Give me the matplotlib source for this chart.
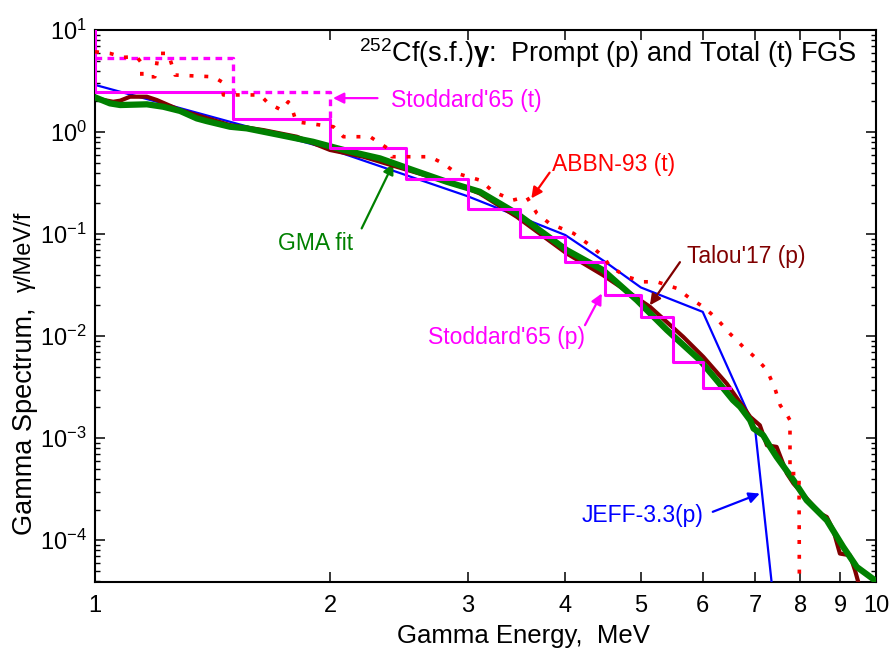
import numpy as np
import matplotlib
matplotlib.use('Agg')
import matplotlib.pyplot as plt
from matplotlib.ticker import FixedLocator, FixedFormatter, LogLocator, NullFormatter, NullLocator

plt.rcParams['font.family'] = ['Liberation Sans', 'DejaVu Sans']
plt.rcParams['mathtext.fontset'] = 'custom'
plt.rcParams['mathtext.rm'] = 'Liberation Sans'
plt.rcParams['mathtext.it'] = 'Liberation Sans:italic'
plt.rcParams['mathtext.bf'] = 'Liberation Sans:bold'
plt.rcParams['axes.unicode_minus'] = False

# ---------------- data ----------------
# GMA fit (prompt)
gma_e = [1.00, 1.045, 1.077, 1.165, 1.223, 1.285, 1.35, 1.39, 1.489, 1.564, 1.725, 1.902,
         2.10, 2.317, 2.554, 2.82, 3.11, 3.467, 4.018, 4.472, 4.94, 5.40, 5.95, 6.25, 6.56,
         6.70, 6.90, 6.97, 7.17, 7.32, 7.46, 7.84, 8.15, 8.65, 9.08, 9.45, 9.97]
gma_y = [2.19, 1.91, 1.84, 1.87, 1.77, 1.61, 1.36, 1.28, 1.127, 1.087, 0.935, 0.803,
         0.656, 0.552, 0.424, 0.326, 0.260, 0.1595, 0.0697, 0.0444, 0.02255, 0.01146, 0.00582,
         0.00371, 0.00236, 0.00203, 0.0015, 0.001245, 0.00107, 0.000822, 0.000656, 0.000388,
         0.000247, 0.000157, 0.0000859, 0.0000547, 0.0000405]

# Talou'17 (prompt)
talou_e = [1.00, 1.055, 1.077, 1.109, 1.165, 1.20, 1.285, 1.417, 1.489, 1.642, 1.813, 2.0,
           2.206, 2.434, 2.685, 2.962, 3.11, 3.467, 4.018, 4.472, 5.135, 5.665, 6.01, 6.44,
           6.90, 7.10, 7.25, 7.46, 7.69, 7.84, 8.48, 8.65, 8.82, 8.99, 9.26, 9.40, 9.49, 9.55]
talou_y = [2.14, 1.98, 2.03, 2.22, 2.22, 2.06, 1.64, 1.31, 1.17, 1.046, 0.90, 0.667,
           0.573, 0.457, 0.365, 0.291, 0.25, 0.148, 0.0646, 0.0396, 0.0194, 0.00984, 0.00627,
           0.00343, 0.00162, 0.00134, 0.000853, 0.000822, 0.000451, 0.00036, 0.000183,
           0.000169, 0.000125, 0.0000741, 0.0000713, 0.0000508, 0.000039, 0.00002]

# JEFF-3.3 (prompt)
jeff_e = [1.0, 2.0, 3.0, 4.0, 4.5, 5.0, 6.0, 7.0, 7.5]
jeff_y = [2.9, 0.68, 0.235, 0.098, 0.0535, 0.030, 0.0173, 0.00125, 9.3e-6]

# ABBN-93 (total)
abbn_e = [1.00, 1.045, 1.087, 1.131, 1.148, 1.148, 1.193, 1.205, 1.241, 1.266, 1.417, 1.453,
          1.46, 1.627, 1.667, 1.734, 1.768, 1.79, 1.81, 2.02, 2.08, 2.25, 2.387, 2.40, 2.685,
          2.79, 2.905, 3.11, 3.236, 3.43, 3.57, 3.68, 3.82, 4.10, 4.30, 4.48, 4.565, 4.80,
          5.04, 5.24, 5.56, 5.78, 6.01, 6.25, 6.50, 6.76, 7.03, 7.25, 7.42, 7.54, 7.69,
          7.76, 7.76, 7.97, 7.97, 8.0]
abbn_y = [6.12, 5.9, 5.4, 5.47, 4.71, 3.48, 3.48, 5.9, 5.9, 3.62, 3.48, 3.11,
          2.31, 2.31, 1.91, 1.64, 1.98, 1.64, 1.26, 1.127, 0.90, 0.90, 0.667, 0.573, 0.573,
          0.493, 0.394, 0.338, 0.26, 0.2155, 0.232, 0.1595, 0.127, 0.1016, 0.078, 0.06, 0.0479,
          0.0382, 0.0341, 0.0341, 0.0294, 0.0234, 0.0194, 0.0149, 0.0106, 0.00785, 0.00604,
          0.00465, 0.0031, 0.0021, 0.0017, 0.0015, 0.00045, 0.00045, 0.00033, 1e-7]

# Stoddard'65 histograms
stod_p_edges = [0.5, 1.0, 1.5, 2.0, 2.5, 3.0, 3.5, 4.0, 4.5, 5.0, 5.5, 6.0, 6.5]
stod_p_vals = [15.0, 2.48, 1.33, 0.70, 0.343, 0.177, 0.094, 0.0535, 0.0252, 0.0153,
               0.00552, 0.00307]
stod_t_edges = [1.0, 1.5, 2.0]
stod_t_vals = [5.27, 2.48]

xtick_vals = [1, 2, 3, 4, 5, 6, 7, 8, 9, 10]
xtick_labels = ['1', '2', '3', '4', '5', '6', '7', '8', '9', '10']

# ---------------- figure ----------------
W, H = 893, 657
fig = plt.figure(figsize=(W / 100, H / 100), dpi=100)
L, R, T, B = 95, 876, 30, 582
ax = fig.add_axes([L / W, 1 - B / H, (R - L) / W, (B - T) / H])
ax.set_xscale('log')
ax.set_yscale('log')
ax.set_xlim(1, 10)
ax.set_ylim(3.9e-5, 10)

ax.plot(jeff_e, jeff_y, color='#0000ff', lw=1.6, zorder=3)
ax.plot(talou_e, talou_y, color='#800000', lw=3.0, zorder=4)
ax.plot(gma_e, gma_y, color='#008000', lw=4.5, zorder=5)
ax.step(stod_p_edges, stod_p_vals + [stod_p_vals[-1]], where='post',
        color='#ff00ff', lw=2.2, zorder=6)
t_x = stod_t_edges + [stod_t_edges[-1]]
t_y = stod_t_vals + [stod_t_vals[-1], stod_p_vals[2]]
ax.step(t_x, t_y, where='post', color='#ff00ff', lw=2.4,
        linestyle=(0, (2.0, 1.6)), zorder=6)
ax.plot(abbn_e, abbn_y, color='#ff0000', lw=2.6, linestyle=(0, (1.1, 3.0)), zorder=7)

# ticks
ax.xaxis.set_major_locator(FixedLocator(xtick_vals))
ax.xaxis.set_major_formatter(FixedFormatter(xtick_labels))
ax.xaxis.set_minor_locator(NullLocator())
ax.yaxis.set_major_locator(LogLocator(base=10, numticks=20))
ax.yaxis.set_minor_locator(LogLocator(base=10, subs=np.arange(2, 10), numticks=20))
ax.yaxis.set_minor_formatter(NullFormatter())
ax.tick_params(which='both', direction='in', top=True, right=True, labelsize=17)
ax.tick_params(which='major', length=7, width=1.1)
ax.tick_params(which='minor', length=3.8, width=1.0)
ax.tick_params(axis='x', pad=9)
ax.tick_params(axis='y', pad=6)
for s in ax.spines.values():
    s.set_linewidth(1.5)

# labels
fig.text(523 / W, 1 - 636 / H, 'Gamma Energy,  MeV', ha='center', va='center', fontsize=18.5)
ta = fig.text(25 / W, 1 - 535 / H, 'Gamma Spectrum,  ', rotation=90, rotation_mode='anchor',
              ha='left', va='center', fontsize=19.5)
fig.canvas.draw()
bb = ta.get_window_extent()
fig.text(25 / W, bb.y1 / H, '\u03b3/MeV/f', rotation=90, rotation_mode='anchor',
         ha='left', va='center', fontsize=17)

# title
ax.text((857 - L) / (R - L), (B - 62) / (B - T),
        r'$^{252}$Cf(s.f.)$\mathbf{\gamma}$:  Prompt (p) and Total (t) FGS',
        transform=ax.transAxes, ha='right', va='baseline', fontsize=19.5)

# annotations
def note(text, color, head, tail, tpos):
    ax.annotate('', xy=head, xytext=tail,
                arrowprops=dict(arrowstyle='-|>', color=color, lw=1.6, mutation_scale=16,
                                shrinkA=0, shrinkB=0))
    ax.text(tpos[0], tpos[1], text, color=color, fontsize=16.5, ha='left', va='center')

note("Stoddard'65 (t)", '#ff00ff', (2.017, 2.15), (2.30, 2.15), (2.39, 2.06))
note('ABBN-93 (t)', '#ff0000', (3.62, 0.224), (3.82, 0.40), (3.85, 0.486))
note("Talou'17 (p)", '#800000', (5.135, 0.0201), (5.61, 0.0531), (5.73, 0.0609))
note("Stoddard'65 (p)", '#ff00ff', (4.455, 0.0262), (4.24, 0.01282), (2.67, 0.00977))
note('JEFF-3.3(p)', '#0000ff', (7.10, 2.87e-4), (6.18, 1.9e-4), (4.20, 1.76e-4))
note('GMA fit', '#008000', (2.41, 0.493), (2.195, 0.1137), (1.716, 0.0817))

fig.savefig('out.png', dpi=100)
